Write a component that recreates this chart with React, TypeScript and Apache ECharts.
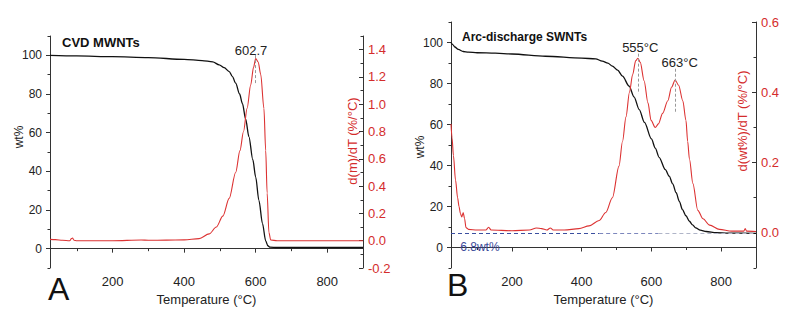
import React, { useEffect, useRef } from "react";
import * as echarts from "echarts";

// ---------- Panel A : CVD MWNTs ----------
const tgaTempA = [25, 100, 200, 300, 400, 450, 480, 498, 512, 526, 535, 544, 555, 563, 572, 581, 592, 600, 609, 619, 628, 634, 640, 660, 900];
const tgaWtA = [100, 99.7, 99.3, 98.8, 97.9, 97.3, 96.6, 95.1, 93.6, 91.6, 89, 85.6, 80, 75, 67, 58, 46, 37, 25, 13, 4, 1.5, 0.8, 0.6, 0.6];

const dtgTempA = [25, 40, 60, 80, 85, 88, 92, 100, 150, 200, 280, 300, 350, 400, 442, 470, 490, 508, 526, 544, 556, 566, 576, 586, 594, 600, 607, 614, 623, 628, 632, 637, 642, 660, 900];
const dtgA = [0.01, 0.008, 0.003, 0.0, 0.015, 0.02, 0.003, 0.0, 0.0, 0.0, 0.005, 0.003, 0.004, 0.006, 0.015, 0.05, 0.1, 0.18, 0.31, 0.5, 0.66, 0.8, 0.97, 1.14, 1.27, 1.335, 1.31, 1.22, 0.97, 0.66, 0.35, 0.06, 0.005, 0.0, 0.0];

// ---------- Panel B : Arc-discharge SWNTs ----------
const tgaTempB = [25, 30, 36, 46, 60, 75, 100, 152, 200, 296, 400, 440, 459, 475, 488, 503, 517, 536, 550, 565, 580, 600, 611, 622, 640, 651, 661, 671, 680, 689, 699, 709, 718, 727, 740, 757, 786, 820, 900];
const tgaWtB = [100, 99, 97.8, 96.6, 95.6, 95.3, 95.0, 94.8, 94.4, 93.3, 92.4, 92.0, 90.9, 89.9, 88.5, 86.5, 83.6, 78.7, 73.5, 67.3, 61, 53, 48.5, 44, 38, 34.8, 31, 26.7, 22.5, 18.5, 15.5, 12.8, 11, 9.6, 8.5, 7.8, 7.2, 7.0, 6.9];

const dtgTempB = [25, 28, 32, 38, 44, 48, 52, 56, 60, 64, 68, 75, 100, 125, 133, 140, 200, 250, 270, 285, 300, 310, 318, 350, 392, 421, 450, 469, 488, 507, 517, 527, 537, 546, 555, 561, 568, 579, 590, 599, 611, 620, 632, 647, 658, 668, 678, 690, 699, 704, 709, 719, 733, 748, 767, 795, 830, 865, 869, 873, 900];
const dtgB = [0.31, 0.27, 0.22, 0.15, 0.1, 0.075, 0.055, 0.045, 0.058, 0.04, 0.015, 0.01, 0.008, 0.008, 0.016, 0.008, 0.006, 0.008, 0.014, 0.012, 0.008, 0.014, 0.008, 0.008, 0.012, 0.02, 0.035, 0.058, 0.1, 0.19, 0.26, 0.33, 0.4, 0.45, 0.49, 0.497, 0.485, 0.433, 0.37, 0.32, 0.3, 0.31, 0.34, 0.376, 0.415, 0.435, 0.42, 0.376, 0.32, 0.26, 0.21, 0.14, 0.064, 0.04, 0.022, 0.01, 0.005, 0.005, 0.012, 0.005, 0.004];

// ---------- ticks ----------
const xMajor = [200, 400, 600, 800];
const xMinor = [100, 300, 500, 700, 900];
const wtMajor = [0, 20, 40, 60, 80, 100];
const wtMinor = [-10, 10, 30, 50, 70, 90, 110];
const dA_Major = [-0.2, 0, 0.2, 0.4, 0.6, 0.8, 1.0, 1.2, 1.4];
const dA_Minor = [-0.1, 0.1, 0.3, 0.5, 0.7, 0.9, 1.1, 1.3, 1.5];
const dB_Major = [0, 0.2, 0.4, 0.6];
const dB_Minor = [-0.1, 0.1, 0.3, 0.5];

// ---------- annotations ----------
const peakA = { t: 600, label: "602.7" };
const peaksB = [
  { t: 561, label: "555°C" },
  { t: 668, label: "663°C" },
];
const residueB = 6.8;

const FONT = "'Liberation Sans', Arial, sans-serif";
const RED = "#dc3232";
const RED_TXT = "#d42c2c";
const AX = "#333";

const zip = (a: number[], b: number[]) => a.map((v, i) => [v, b[i]]);

function xAxes(grid: number) {
  return [
    {
      gridIndex: grid, type: "value", min: 25, max: 900, position: "bottom",
      axisLine: { show: true, lineStyle: { color: AX, width: 1 } },
      axisTick: { show: true, inside: false, length: 4, customValues: xMajor, lineStyle: { color: AX } },
      axisLabel: { show: true, customValues: xMajor, fontSize: 13, color: "#222", margin: 7, fontFamily: FONT },
      splitLine: { show: false },
      name: "Temperature (°C)", nameLocation: "middle", nameGap: 23,
      nameTextStyle: { fontSize: 13, color: "#222", fontFamily: FONT },
    },
    {
      gridIndex: grid, type: "value", min: 25, max: 900, position: "bottom",
      axisLine: { show: false },
      axisTick: { show: true, inside: false, length: 2.5, customValues: xMinor, lineStyle: { color: AX } },
      axisLabel: { show: false },
      splitLine: { show: false },
    },
  ];
}

function yAxes(grid: number, dmin: number, dmax: number, dMaj: number[], dMin: number[]) {
  const fmt = (v: number) => v.toFixed(1);
  return [
    {
      gridIndex: grid, type: "value", min: -10, max: 110, position: "left",
      axisLine: { show: true, lineStyle: { color: AX, width: 1 } },
      axisTick: { show: true, inside: false, length: 4, customValues: wtMajor, lineStyle: { color: AX } },
      axisLabel: { show: true, customValues: wtMajor, fontSize: 12, color: "#222", margin: 8, fontFamily: FONT },
      splitLine: { show: false },
    },
    {
      gridIndex: grid, type: "value", min: -10, max: 110, position: "left",
      axisLine: { show: false },
      axisTick: { show: true, inside: false, length: 2.5, customValues: wtMinor, lineStyle: { color: AX } },
      axisLabel: { show: false },
      splitLine: { show: false },
    },
    {
      gridIndex: grid, type: "value", min: dmin, max: dmax, position: "right",
      axisLine: { show: true, lineStyle: { color: AX, width: 1 } },
      axisTick: { show: true, inside: true, length: 4, customValues: dMaj, lineStyle: { color: AX } },
      axisLabel: { show: true, customValues: dMaj, formatter: fmt, fontSize: 13, color: RED_TXT, margin: 5, fontFamily: FONT },
      splitLine: { show: false },
    },
    {
      gridIndex: grid, type: "value", min: dmin, max: dmax, position: "right",
      axisLine: { show: false },
      axisTick: { show: true, inside: true, length: 2.5, customValues: dMin, lineStyle: { color: AX } },
      axisLabel: { show: false },
      splitLine: { show: false },
    },
  ];
}

const peakMarkLine = (t: number, y1: number, y2: number) => [{ coord: [t, y1] }, { coord: [t, y2] }];

export default function App() {
  const ref = useRef<HTMLDivElement>(null);

  useEffect(() => {
    if (!ref.current) return;
    const chart = echarts.init(ref.current, null, { renderer: "svg" });

    const lineBase = {
      type: "line", showSymbol: false, symbol: "none", smooth: 0.3, smoothMonotone: "x",
      silent: true, z: 3,
    };

    const option: any = {
      animation: false,
      backgroundColor: "#ffffff",
      textStyle: { fontFamily: FONT },
      grid: [
        { left: 50, top: 36, width: 313, height: 232, containLabel: false, outerBoundsMode: "none" },
        { left: 451, top: 22, width: 305, height: 246, containLabel: false, outerBoundsMode: "none" },
      ],
      xAxis: [...xAxes(0), ...xAxes(1)],
      yAxis: [
        ...yAxes(0, -0.2, 1.5, dA_Major, dA_Minor),
        ...yAxes(1, -0.1, 0.6, dB_Major, dB_Minor),
      ],
      series: [
        {
          ...lineBase, name: "TGA A", xAxisIndex: 0, yAxisIndex: 0,
          data: zip(tgaTempA, tgaWtA), lineStyle: { color: "#111", width: 1.3 },
        },
        {
          ...lineBase, name: "DTG A", xAxisIndex: 0, yAxisIndex: 2,
          data: zip(dtgTempA, dtgA), lineStyle: { color: RED, width: 1.1 },
          markLine: {
            silent: true, symbol: ["none", "none"], label: { show: false },
            lineStyle: { type: [3, 2], color: "#999", width: 1 },
            data: [peakMarkLine(peakA.t, 1.36, 1.14)],
          },
          markPoint: {
            silent: true, symbol: "circle", symbolSize: 1, itemStyle: { color: "rgba(0,0,0,0)" },
            label: { show: true, position: "inside", formatter: "{b}", fontSize: 13, color: "#222", fontFamily: FONT },
            data: [{ name: peakA.label, coord: [587, 1.394] }],
          },
        },
        {
          ...lineBase, name: "TGA B", xAxisIndex: 2, yAxisIndex: 4,
          data: zip(tgaTempB, tgaWtB), lineStyle: { color: "#111", width: 1.3 },
          markLine: {
            silent: true, symbol: ["none", "none"], label: { show: false },
            lineStyle: { type: [4, 3], width: 1 },
            data: [
              [{ coord: [25, residueB], lineStyle: { color: "#3b4fa0", type: [4, 3], width: 1 } }, { coord: [450, residueB] }],
              [{ coord: [450, residueB], lineStyle: { color: "#7d87bd", type: [4, 3], width: 1 } }, { coord: [620, residueB] }],
              [{ coord: [620, residueB], lineStyle: { color: "#b0b5c8", type: [4, 3], width: 1 } }, { coord: [900, residueB] }],
            ],
          },
          markPoint: {
            silent: true, symbol: "circle", symbolSize: 1, itemStyle: { color: "rgba(0,0,0,0)" },
            label: { show: true, position: "inside", formatter: "{b}", fontSize: 12, color: "#3b4a9a", fontFamily: FONT },
            data: [{ name: residueB + "wt%", coord: [108, 0.3] }],
          },
        },
        {
          ...lineBase, name: "DTG B", xAxisIndex: 2, yAxisIndex: 6,
          data: zip(dtgTempB, dtgB), lineStyle: { color: RED, width: 1.1 },
          markLine: {
            silent: true, symbol: ["none", "none"], label: { show: false },
            lineStyle: { type: [3, 2], color: "#999", width: 1 },
            data: [peakMarkLine(peaksB[0].t, 0.51, 0.396), peakMarkLine(peaksB[1].t, 0.467, 0.342)],
          },
          markPoint: {
            silent: true, symbol: "circle", symbolSize: 1, itemStyle: { color: "rgba(0,0,0,0)" },
            label: { show: true, position: "inside", formatter: "{b}", fontSize: 13, color: "#222", fontFamily: FONT },
            data: [
              { name: peaksB[0].label, coord: [568, 0.528] },
              { name: peaksB[1].label, coord: [681, 0.485] },
            ],
          },
        },
      ],
      graphic: [
        { type: "text", left: 62, top: 36, style: { text: "CVD MWNTs", font: `bold 13px ${FONT}`, fill: "#111" } },
        { type: "text", left: 462, top: 31, style: { text: "Arc-discharge SWNTs", font: `bold 12px ${FONT}`, fill: "#111" } },
        { type: "text", x: 48, y: 289, style: { text: "A", font: `32px ${FONT}`, fill: "#111", verticalAlign: "middle" } },
        { type: "text", x: 447, y: 285, style: { text: "B", font: `32px ${FONT}`, fill: "#111", verticalAlign: "middle" } },
        { type: "text", x: 19, y: 137, rotation: Math.PI / 2, style: { text: "wt%", font: `12px ${FONT}`, fill: "#222", align: "center", verticalAlign: "middle" } },
        { type: "text", x: 420, y: 147, rotation: Math.PI / 2, style: { text: "wt%", font: `12px ${FONT}`, fill: "#222", align: "center", verticalAlign: "middle" } },
        { type: "text", x: 352, y: 141, rotation: Math.PI / 2, style: { text: "d(m)/dT (%/°C)", font: `13px ${FONT}`, fill: RED_TXT, align: "center", verticalAlign: "middle" } },
        { type: "text", x: 742, y: 121, rotation: Math.PI / 2, style: { text: "d(wt%)/dT (%/°C)", font: `13px ${FONT}`, fill: RED_TXT, align: "center", verticalAlign: "middle" } },
      ],
    };

    chart.setOption(option);
    return () => chart.dispose();
  }, []);

  return <div ref={ref} style={{ position: "absolute", left: 0, top: 0, width: 795, height: 316 }} />;
}
